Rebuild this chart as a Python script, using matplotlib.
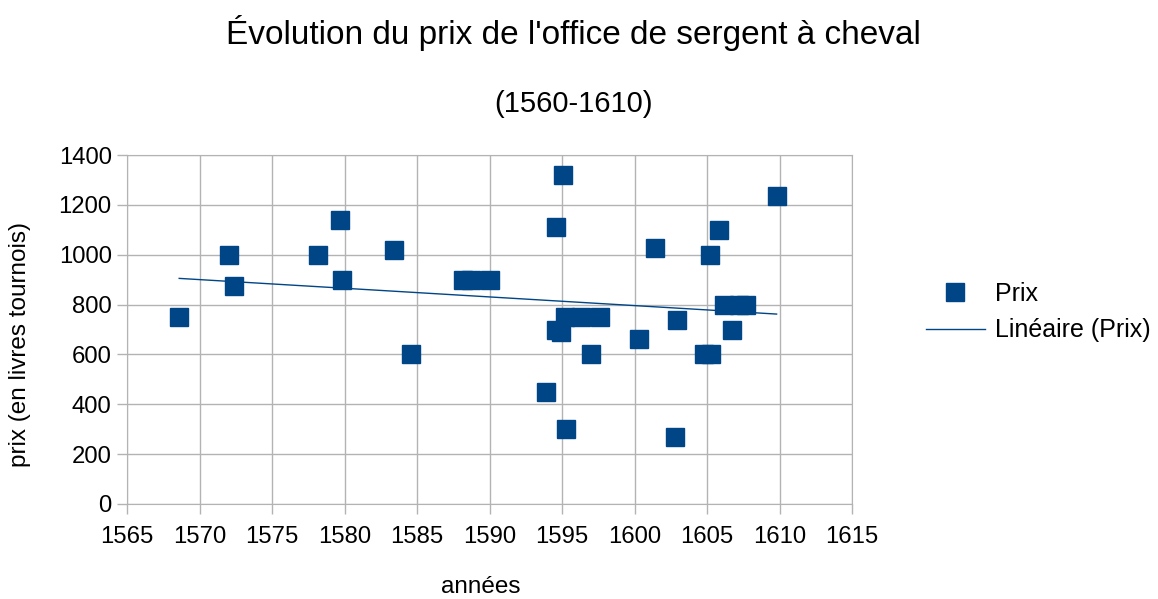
import matplotlib
matplotlib.use("Agg")
import matplotlib.pyplot as plt
import numpy as np

plt.rcParams['font.family'] = ['Liberation Sans', 'DejaVu Sans']

# data
annees = [1568.6, 1572.0, 1572.4, 1578.2, 1579.7, 1579.8, 1583.4, 1584.6,
          1588.2, 1588.7, 1590.0, 1593.9, 1594.6, 1594.6, 1594.9, 1595.1,
          1595.2, 1595.3, 1596.3, 1597.0, 1597.6, 1600.3, 1601.4, 1602.8,
          1602.9, 1604.8, 1605.2, 1605.3, 1605.8, 1606.2, 1606.7, 1607.2,
          1607.7, 1609.8]
prix = [750, 1000, 875, 1000, 1140, 900, 1020, 600,
        900, 900, 900, 450, 1110, 700, 690, 1320,
        750, 300, 750, 600, 750, 660, 1025, 270,
        740, 600, 1000, 600, 1100, 800, 700, 800,
        800, 1235]

x_ticks = list(range(1565, 1620, 5))
y_ticks = list(range(0, 1600, 200))

bleu = '#004586'
gris = '#b3b3b3'

fig = plt.figure(figsize=(11.58, 5.99), dpi=100)
ax = fig.add_axes([127/1158, 1-504/599, 725/1158, 349/599])

ax.plot(annees, prix, linestyle='none', marker='s', markersize=13.5,
        color=bleu, label='Prix', zorder=3)

# linear trend
a, b = np.polyfit(annees, prix, 1)
xt = np.array([min(annees), max(annees)])
ax.plot(xt, a*xt + b, color=bleu, linewidth=1, label='Linéaire (Prix)', zorder=2)

ax.set_xlim(1565, 1615)
ax.set_ylim(0, 1400)
ax.set_xticks(x_ticks)
ax.set_yticks(y_ticks)
ax.grid(True, color=gris, linewidth=1)
ax.set_axisbelow(True)
for s in ax.spines.values():
    s.set_color(gris)
ax.tick_params(colors=gris, labelcolor='black', labelsize=17.2, length=7, width=1, pad=4)
ax.tick_params(axis='x', pad=9)

ax.set_xlabel('années', fontsize=17.5)
ax.set_ylabel('prix (en livres tournois)', fontsize=17.5)
ax.xaxis.set_label_coords(0.488, -0.238)
ax.yaxis.set_label_coords(-0.148, 0.456)
ax.xaxis.label.set_va('center')
ax.yaxis.label.set_va('center')

fig.text(0.495, 1-33/599, "Évolution du prix de l'office de sergent à cheval",
         ha='center', va='center', fontsize=24)
fig.text(0.495, 1-104/599, "(1560-1610)", ha='center', va='center', fontsize=21)

fig.legend(loc='center left', bbox_to_anchor=(0.780, 1-312/599), frameon=False,
           fontsize=18, handlelength=2.36, handletextpad=0.4, labelspacing=0.5)

fig.savefig('out.png', dpi=100)
